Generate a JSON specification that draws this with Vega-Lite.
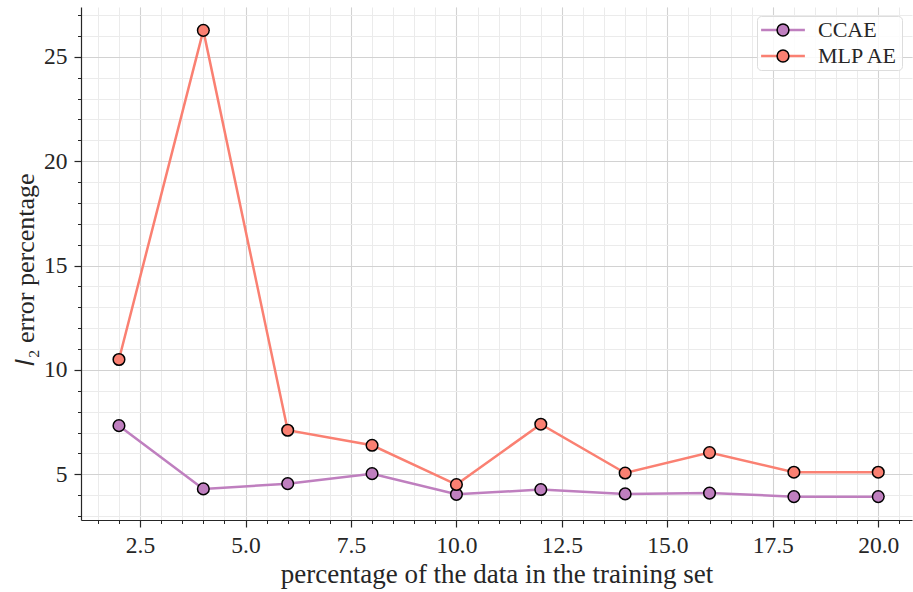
{
  "$schema": "https://vega.github.io/schema/vega-lite/v6.json",
  "width": 831,
  "height": 513,
  "autosize": "none",
  "padding": {"left": 81, "top": 7, "right": 1, "bottom": 72},
  "background": "white",
  "config": {
    "view": {"stroke": null},
    "font": "Liberation Serif",
    "axis": {"labelFont": "Liberation Serif", "titleFont": "Liberation Serif"},
    "legend": {"labelFont": "Liberation Serif"}
  },
  "data": {
    "values": [
      {"pct": 2, "err": 7.33, "model": "CCAE"},
      {"pct": 4, "err": 4.30, "model": "CCAE"},
      {"pct": 6, "err": 4.55, "model": "CCAE"},
      {"pct": 8, "err": 5.03, "model": "CCAE"},
      {"pct": 10, "err": 4.04, "model": "CCAE"},
      {"pct": 12, "err": 4.27, "model": "CCAE"},
      {"pct": 14, "err": 4.06, "model": "CCAE"},
      {"pct": 16, "err": 4.10, "model": "CCAE"},
      {"pct": 18, "err": 3.93, "model": "CCAE"},
      {"pct": 20, "err": 3.93, "model": "CCAE"},
      {"pct": 2, "err": 10.50, "model": "MLP AE"},
      {"pct": 4, "err": 26.27, "model": "MLP AE"},
      {"pct": 6, "err": 7.11, "model": "MLP AE"},
      {"pct": 8, "err": 6.39, "model": "MLP AE"},
      {"pct": 10, "err": 4.51, "model": "MLP AE"},
      {"pct": 12, "err": 7.40, "model": "MLP AE"},
      {"pct": 14, "err": 5.06, "model": "MLP AE"},
      {"pct": 16, "err": 6.04, "model": "MLP AE"},
      {"pct": 18, "err": 5.10, "model": "MLP AE"},
      {"pct": 20, "err": 5.10, "model": "MLP AE"}
    ]
  },
  "layer": [
    {
      "mark": {"type": "line", "strokeWidth": 2.5},
      "encoding": {
        "x": {
          "field": "pct", "type": "quantitative",
          "scale": {"domain": [1.1, 20.8], "nice": false, "zero": false},
          "axis": {
            "orient": "bottom",
            "values": [1.5, 2, 2.5, 3, 3.5, 4, 4.5, 5, 5.5, 6, 6.5, 7, 7.5, 8, 8.5, 9, 9.5, 10, 10.5, 11, 11.5, 12, 12.5, 13, 13.5, 14, 14.5, 15, 15.5, 16, 16.5, 17, 17.5, 18, 18.5, 19, 19.5, 20, 20.5],
            "grid": true, "gridColor": "#ebebeb", "gridWidth": 1,
            "labels": false, "domain": false,
            "ticks": true, "tickSize": 3.5, "tickColor": "#262626", "tickWidth": 1,
            "title": null
          }
        },
        "y": {
          "field": "err", "type": "quantitative",
          "scale": {"domain": [2.81, 27.39], "nice": false, "zero": false},
          "axis": {
            "orient": "left",
            "values": [3, 4, 5, 6, 7, 8, 9, 10, 11, 12, 13, 14, 15, 16, 17, 18, 19, 20, 21, 22, 23, 24, 25, 26, 27],
            "grid": true, "gridColor": "#ebebeb", "gridWidth": 1,
            "labels": false, "domain": false,
            "ticks": true, "tickSize": 3.5, "tickColor": "#262626", "tickWidth": 1,
            "title": null
          }
        },
        "color": {
          "field": "model", "type": "nominal",
          "scale": {"range": ["#bf7fbf", "#fa8072"]},
          "legend": {
            "title": null,
            "orient": "none", "legendX": 676, "legendY": 9,
            "symbolType": "M-3.7,0H3.7", "symbolSize": 140, "symbolStrokeWidth": 2.5,
            "symbolOffset": 12,
            "labelFontSize": 22, "labelOpacity": 0, "labelOffset": 24,
            "padding": 3, "rowPadding": 4,
            "fillColor": "rgba(255,255,255,0.85)", "strokeColor": "#dddddd", "cornerRadius": 4
          }
        }
      }
    },
    {
      "mark": {"type": "point", "filled": true, "size": 135, "stroke": "black", "strokeWidth": 1.5, "opacity": 1},
      "encoding": {
        "x": {
          "field": "pct", "type": "quantitative",
          "axis": {
            "orient": "bottom",
            "values": [2.5, 5, 7.5, 10, 12.5, 15, 17.5, 20], "format": ".1f",
            "grid": true, "gridColor": "#d2d2d2", "gridWidth": 1.1,
            "domain": true, "domainColor": "#262626", "domainWidth": 1.2,
            "tickSize": 7, "tickWidth": 1.2, "tickColor": "#262626",
            "labelFontSize": 23.5, "labelColor": "#262626", "labelPadding": 6,
            "title": "percentage of the data in the training set",
            "titleFontSize": 27, "titleFontWeight": "normal", "titleColor": "#262626",
            "titleBaseline": "alphabetic", "titleY": 62
          }
        },
        "y": {
          "field": "err", "type": "quantitative",
          "axis": {
            "orient": "left",
            "values": [5, 10, 15, 20, 25], "format": "d",
            "grid": true, "gridColor": "#d2d2d2", "gridWidth": 1.1,
            "domain": true, "domainColor": "#262626", "domainWidth": 1.2,
            "tickSize": 7, "tickWidth": 1.2, "tickColor": "#262626",
            "labelFontSize": 23.5, "labelColor": "#262626", "labelPadding": 7,
            "title": "𝑙₂ error percentage",
            "titleFontSize": 26, "titleFontWeight": "normal", "titleColor": "#262626",
            "titleBaseline": "alphabetic", "titleX": -48, "titleY": 262
          }
        },
        "fill": {
          "field": "model", "type": "nominal",
          "scale": {"domain": ["CCAE", "MLP AE"], "range": ["#bf7fbf", "#fa8072"]},
          "legend": null
        },
        "shape": {
          "field": "model", "type": "nominal",
          "scale": {"domain": ["CCAE", "MLP AE"], "range": ["circle", "circle"]},
          "legend": {
            "title": null,
            "orient": "none", "legendX": 676, "legendY": 9,
            "symbolSize": 140, "symbolStrokeWidth": 1.5, "symbolOffset": 12,
            "labelFontSize": 22, "labelColor": "#262626", "labelOffset": 24,
            "padding": 3, "rowPadding": 4,
            "encode": {
              "symbols": {
                "update": {
                  "fill": {"scale": "fill", "field": "value"},
                  "stroke": {"value": "black"},
                  "strokeWidth": {"value": 1.5},
                  "opacity": {"value": 1}
                }
              }
            }
          }
        }
      }
    }
  ],
  "resolve": {"axis": {"x": "independent", "y": "independent"}}
}
